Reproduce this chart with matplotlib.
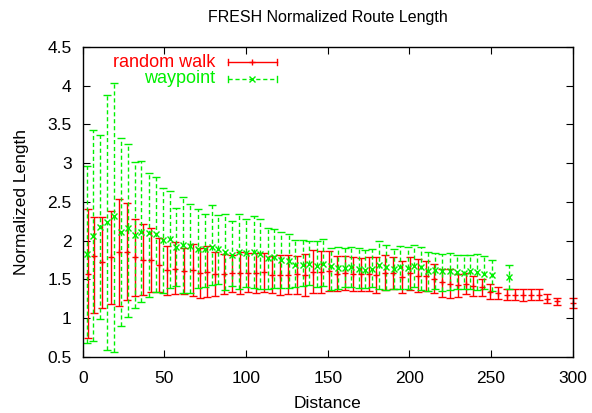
import numpy as np
import matplotlib
matplotlib.use('Agg')
import matplotlib.pyplot as plt
from matplotlib.lines import Line2D

plt.rcParams['font.family'] = ['Liberation Sans', 'DejaVu Sans']

# random walk: distance bins, mean and error-bar ends
rw_x = [3.2, 7.2, 11.8, 17.1, 22.0, 27.3, 32.2, 37.1, 42.0, 46.9, 51.8, 56.7,
        61.8, 67.4, 71.6, 76.4, 81.3, 86.7, 91.6, 96.5, 101.4, 106.3, 111.2, 116.1,
        120.8, 125.7, 130.9, 135.8, 140.8, 145.7, 150.6, 155.5, 160.4, 165.3, 170.6, 175.5,
        179.8, 185.1, 190.0, 195.3, 200.2, 205.1, 210.0, 214.9, 219.8, 224.7, 229.6, 234.9,
        239.2, 244.5, 249.4, 254.3, 259.6, 264.5, 269.4, 274.3, 279.2, 284.1, 290.3, 300.0]
rw_mean = [1.567, 1.803, 1.72, 1.786, 1.855, 1.859, 1.786, 1.755, 1.747, 1.69, 1.622, 1.64,
           1.614, 1.622, 1.588, 1.6, 1.567, 1.575, 1.58, 1.584, 1.588, 1.584, 1.593, 1.555,
           1.558, 1.558, 1.571, 1.554, 1.597, 1.597, 1.61, 1.571, 1.58, 1.567, 1.571, 1.571,
           1.554, 1.58, 1.58, 1.528, 1.58, 1.545, 1.545, 1.51, 1.468, 1.438, 1.425, 1.442,
           1.416, 1.399, 1.343, 1.326, 1.304, 1.296, 1.296, 1.30, 1.296, 1.253, 1.218, 1.197]
rw_hi = [2.406, 2.31, 2.30, 2.38, 2.54, 2.483, 2.285, 2.212, 2.16, 2.04, 1.936, 1.98,
         1.906, 1.958, 1.91, 1.932, 1.85, 1.829, 1.82, 1.855, 1.846, 1.838, 1.838, 1.803,
         1.81, 1.81, 1.803, 1.829, 1.88, 1.864, 1.868, 1.803, 1.803, 1.786, 1.781, 1.794,
         1.786, 1.81, 1.794, 1.735, 1.786, 1.765, 1.743, 1.704, 1.64, 1.64, 1.571, 1.58,
         1.545, 1.51, 1.438, 1.407, 1.381, 1.373, 1.373, 1.373, 1.373, 1.313, 1.261, 1.261]
rw_lo = [0.741, 1.064, 1.136, 1.184, 1.158, 1.231, 1.287, 1.296, 1.339, 1.339, 1.296, 1.313,
         1.313, 1.291, 1.265, 1.274, 1.283, 1.317, 1.339, 1.313, 1.335, 1.33, 1.339, 1.322,
         1.304, 1.313, 1.313, 1.291, 1.322, 1.33, 1.348, 1.348, 1.365, 1.348, 1.355, 1.348,
         1.33, 1.365, 1.373, 1.322, 1.365, 1.335, 1.348, 1.322, 1.278, 1.261, 1.278, 1.313,
         1.287, 1.287, 1.252, 1.244, 1.235, 1.231, 1.226, 1.235, 1.235, 1.193, 1.175, 1.132]

# waypoint
wp_x = [2.8, 6.3, 10.6, 15.1, 19.2, 23.3, 27.7, 32.2, 35.9, 40.4, 44.9, 49.4, 53.3, 57.3,
        61.6, 65.9, 70.4, 74.9, 79.0, 83.0, 87.1, 91.6, 95.9, 100.2, 104.7, 108.8, 113.3, 117.3,
        121.6, 126.1, 130.2, 134.7, 138.8, 143.3, 147.4, 151.9, 156.0, 160.4, 164.5, 169.0, 173.0, 177.2,
        181.4, 185.9, 190.4, 194.5, 199.0, 203.1, 207.2, 211.7, 215.8, 220.2, 224.7, 229.2, 233.3,
        237.2, 241.3, 245.7, 250.6, 260.9]
wp_mean = [1.825, 2.06, 2.18, 2.24, 2.32, 2.11, 2.16, 2.07, 2.11, 2.096, 2.087, 2.01, 2.02, 1.923,
           1.94, 1.936, 1.894, 1.89, 1.923, 1.89, 1.855, 1.816, 1.855, 1.846, 1.855, 1.829, 1.777, 1.794,
           1.752, 1.739, 1.69, 1.69, 1.7, 1.674, 1.696, 1.674, 1.648, 1.648, 1.657, 1.64, 1.622, 1.64,
           1.69, 1.665, 1.64, 1.657, 1.648, 1.674, 1.657, 1.614, 1.622, 1.606, 1.606, 1.597, 1.58,
           1.606, 1.597, 1.571, 1.554, 1.536]
wp_hi = [2.964, 3.43, 3.37, 3.88, 4.04, 3.32, 3.245, 3.016, 3.025, 2.874, 2.82, 2.685, 2.64, 2.426,
         2.56, 2.47, 2.406, 2.345, 2.457, 2.33, 2.34, 2.25, 2.35, 2.285, 2.316, 2.277, 2.17, 2.155,
         2.113, 2.087, 2.01, 2.01, 2.0, 1.997, 2.019, 1.91, 1.923, 1.91, 1.915, 1.902, 1.88, 1.894,
         1.993, 1.95, 1.897, 1.932, 1.923, 1.94, 1.923, 1.855, 1.846, 1.829, 1.838, 1.81, 1.81,
         1.81, 1.829, 1.803, 1.752, 1.69]
wp_lo = [0.685, 0.706, 0.994, 0.59, 0.568, 0.9, 1.012, 1.136, 1.214, 1.278, 1.335, 1.33, 1.386, 1.42,
         1.322, 1.33, 1.386, 1.407, 1.433, 1.44, 1.365, 1.416, 1.38, 1.4, 1.39, 1.373, 1.38, 1.386,
         1.386, 1.386, 1.4, 1.416, 1.433, 1.407, 1.416, 1.365, 1.373, 1.4, 1.4, 1.386, 1.386, 1.4,
         1.381, 1.365, 1.373, 1.381, 1.373, 1.407, 1.365, 1.355, 1.373, 1.348, 1.365, 1.373, 1.373,
         1.381, 1.365, 1.381, 1.348, 1.373]

RED = '#ff0000'
GREEN = '#00f000'

fig = plt.figure(figsize=(5.92, 4.13), dpi=100)
ax = fig.add_axes([0.1397, 0.1356, 0.8277, 0.7506])


def draw(x, m, lo, hi, color, marker, dashed):
    m = np.array(m)
    yerr = [m - np.array(lo), np.array(hi) - m]
    eb = ax.errorbar(x, m, yerr=yerr, fmt=marker, color=color, ecolor=color,
                     elinewidth=1.0, capsize=2.8, capthick=1.0, markersize=5,
                     markeredgewidth=1.0, clip_on=False)
    if dashed:
        for lc in eb[2]:
            lc.set_linestyle((0, (3, 2)))
    return eb


draw(rw_x, rw_mean, rw_lo, rw_hi, RED, '+', False)
draw(wp_x, wp_mean, wp_lo, wp_hi, GREEN, 'x', True)

ax.set_xlim(0, 300)
ax.set_ylim(0.5, 4.5)
ax.set_xticks(np.arange(0, 301, 50))
ax.set_yticks(np.arange(0.5, 4.51, 0.5))
ax.set_yticklabels(['0.5', '1', '1.5', '2', '2.5', '3', '3.5', '4', '4.5'])
ax.tick_params(direction='in', length=5, width=0.8, top=True, right=True,
               labelsize=12.5)
ax.tick_params(axis='x', pad=10)
ax.tick_params(axis='y', pad=8)
for s in ax.spines.values():
    s.set_linewidth(1.0)

ax.set_title('FRESH Normalized Route Length', fontsize=11.5, pad=18)
ax.set_xlabel('Distance', fontsize=12.5, labelpad=7)
ax.set_ylabel('Normalized Length', fontsize=12.5, labelpad=13)

# gnuplot style key, top left
tr = ax.transAxes
ax.text(0.27, 0.951, 'random walk', color=RED, ha='right', va='center',
        fontsize=13, transform=tr)
ax.text(0.27, 0.897, 'waypoint', color=GREEN, ha='right', va='center',
        fontsize=13, transform=tr)
ax.add_line(Line2D([0.2965, 0.3965], [0.951, 0.951], color=RED, lw=1.0, transform=tr))
for xx in (0.2965, 0.3965):
    ax.add_line(Line2D([xx, xx], [0.941, 0.961], color=RED, lw=1.0, transform=tr))
ax.add_line(Line2D([0.3455], [0.951], color=RED, marker='+', markersize=5, transform=tr))
ax.add_line(Line2D([0.2965, 0.3965], [0.897, 0.897], color=GREEN, lw=1.0,
                   linestyle=(0, (3, 2)), transform=tr))
for xx in (0.2965, 0.3965):
    ax.add_line(Line2D([xx, xx], [0.887, 0.907], color=GREEN, lw=1.0, transform=tr))
ax.add_line(Line2D([0.3455], [0.897], color=GREEN, marker='x', markersize=5, transform=tr))

fig.savefig('out.png', dpi=100)
